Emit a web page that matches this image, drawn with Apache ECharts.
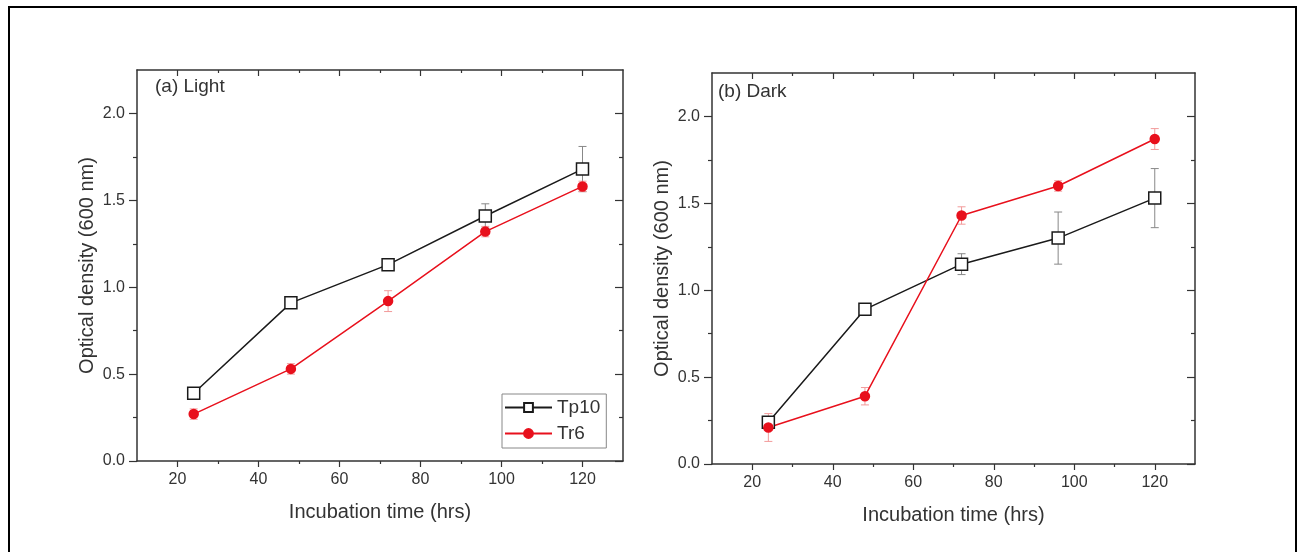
<!DOCTYPE html>
<html>
<head>
<meta charset="utf-8">
<script src="https://cdn.jsdelivr.net/npm/echarts@6/dist/echarts.min.js"></script>
<style>
html,body{margin:0;padding:0;background:#fff;}
#chart{width:1299px;height:552px;}
</style>
</head>
<body>
<div id="chart"></div>
<script>
// ---- data ----
const times = [24, 48, 72, 96, 120];
const xTicks = [20, 40, 60, 80, 100, 120];
const xMinorTicks = [30, 50, 70, 90, 110];
const yTicks = [0, 0.5, 1.0, 1.5, 2.0];
const yMinorTicks = [0.25, 0.75, 1.25, 1.75];
const seriesNames = ['Tp10', 'Tr6'];
const panelTitles = ['(a) Light', '(b) Dark'];
const xAxisTitle = 'Incubation time (hrs)';
const yAxisTitle = 'Optical density (600 nm)';

const lightTp10 = [0.39, 0.91, 1.13, 1.41, 1.68];
const lightTp10Err = [0.02, 0.03, 0.03, 0.07, 0.13];
const lightTr6 = [0.27, 0.53, 0.92, 1.32, 1.58];
const lightTr6Err = [0.03, 0.03, 0.06, 0.03, 0.03];

const darkTp10 = [0.24, 0.89, 1.15, 1.30, 1.53];
const darkTp10Err = [0.03, 0.02, 0.06, 0.15, 0.17];
const darkTr6 = [0.21, 0.39, 1.43, 1.60, 1.87];
const darkTr6Err = [0.08, 0.05, 0.05, 0.03, 0.06];

// ---- layout / style ----
const FONT = "'Liberation Sans', Arial, sans-serif";
const AX = '#333';
const TXT = '#333';
const BLACK = '#1a1a1a';
const RED = '#e8101c';
const X_MIN = 10, X_MAX = 130, Y_MIN = 0, Y_MAX = 2.25;

const panelRects = [
  {left: 137, top: 70, width: 486, height: 391},
  {left: 712, top: 73, width: 483, height: 391}
];

const grids = [];
const xAxes = [];
const yAxes = [];
panelRects.forEach((r, p) => {
  grids.push(Object.assign({}, r, {containLabel: false}));
  grids.push(Object.assign({}, r, {containLabel: false}));
  const g0 = 2 * p, g1 = 2 * p + 1;
  const line = {show: true, onZero: false, lineStyle: {color: AX, width: 1.5}};
  const noLine = {show: false, onZero: false};
  // x axes
  xAxes.push({type: 'value', gridIndex: g0, position: 'bottom', min: X_MIN, max: X_MAX,
    axisLine: line, splitLine: {show: false},
    axisTick: {show: true, customValues: xTicks, length: 6, lineStyle: {color: AX, width: 1.2}},
    axisLabel: {show: true, customValues: xTicks, color: TXT, fontSize: 16, fontFamily: FONT, margin: 11},
    name: xAxisTitle, nameLocation: 'middle', nameGap: 41,
    nameTextStyle: {color: TXT, fontSize: 20, fontFamily: FONT}});
  xAxes.push({type: 'value', gridIndex: g0, position: 'top', min: X_MIN, max: X_MAX,
    axisLine: line, splitLine: {show: false},
    axisTick: {show: true, inside: true, customValues: xTicks, length: 6, lineStyle: {color: AX, width: 1.2}},
    axisLabel: {show: false}});
  xAxes.push({type: 'value', gridIndex: g1, position: 'bottom', min: X_MIN, max: X_MAX,
    axisLine: noLine, splitLine: {show: false},
    axisTick: {show: true, customValues: xMinorTicks, length: 3, lineStyle: {color: AX, width: 1.2}},
    axisLabel: {show: false}});
  xAxes.push({type: 'value', gridIndex: g1, position: 'top', min: X_MIN, max: X_MAX,
    axisLine: noLine, splitLine: {show: false},
    axisTick: {show: true, inside: true, customValues: xMinorTicks, length: 3, lineStyle: {color: AX, width: 1.2}},
    axisLabel: {show: false}});
  // y axes
  yAxes.push({type: 'value', gridIndex: g0, position: 'left', min: Y_MIN, max: Y_MAX,
    axisLine: line, splitLine: {show: false},
    axisTick: {show: true, customValues: yTicks, length: 8, lineStyle: {color: AX, width: 1.2}},
    axisLabel: {show: true, customValues: yTicks, color: TXT, fontSize: 16, fontFamily: FONT, margin: 12,
      formatter: v => Number(v).toFixed(1)},
    name: yAxisTitle, nameLocation: 'middle', nameGap: 40,
    nameTextStyle: {color: TXT, fontSize: 20, fontFamily: FONT}});
  yAxes.push({type: 'value', gridIndex: g0, position: 'right', min: Y_MIN, max: Y_MAX,
    axisLine: line, splitLine: {show: false},
    axisTick: {show: true, inside: true, customValues: yTicks, length: 8, lineStyle: {color: AX, width: 1.2}},
    axisLabel: {show: false}});
  yAxes.push({type: 'value', gridIndex: g1, position: 'left', min: Y_MIN, max: Y_MAX,
    axisLine: noLine, splitLine: {show: false},
    axisTick: {show: true, customValues: yMinorTicks, length: 4, lineStyle: {color: AX, width: 1.2}},
    axisLabel: {show: false}});
  yAxes.push({type: 'value', gridIndex: g1, position: 'right', min: Y_MIN, max: Y_MAX,
    axisLine: noLine, splitLine: {show: false},
    axisTick: {show: true, inside: true, customValues: yMinorTicks, length: 4, lineStyle: {color: AX, width: 1.2}},
    axisLabel: {show: false}});
});

function lineSeries(name, p, vals, color, symbol, size, fill) {
  return {
    type: 'line', name: name, xAxisIndex: 4 * p, yAxisIndex: 4 * p,
    data: times.map((t, i) => [t, vals[i]]),
    symbol: symbol, symbolSize: size, showAllSymbol: true,
    lineStyle: {color: color, width: 1.5},
    itemStyle: {color: fill, borderColor: color, borderWidth: 1.5},
    z: 5, silent: true, animation: false
  };
}

function errSeries(name, p, vals, errs, color) {
  return {
    type: 'custom', name: name, xAxisIndex: 4 * p, yAxisIndex: 4 * p,
    data: times.map((t, i) => [t, vals[i] - errs[i], vals[i] + errs[i]]),
    encode: {x: 0, y: [1, 2]},
    z: 3, silent: true, animation: false,
    renderItem: function (params, api) {
      const lo = api.coord([api.value(0), api.value(1)]);
      const hi = api.coord([api.value(0), api.value(2)]);
      const w = 4;
      const st = {stroke: color, lineWidth: 1};
      return {type: 'group', children: [
        {type: 'line', shape: {x1: lo[0], y1: lo[1], x2: hi[0], y2: hi[1]}, style: st},
        {type: 'line', shape: {x1: lo[0] - w, y1: lo[1], x2: lo[0] + w, y2: lo[1]}, style: st},
        {type: 'line', shape: {x1: hi[0] - w, y1: hi[1], x2: hi[0] + w, y2: hi[1]}, style: st}
      ]};
    }
  };
}

const series = [
  errSeries('Tp10 err a', 0, lightTp10, lightTp10Err, '#888'),
  errSeries('Tr6 err a', 0, lightTr6, lightTr6Err, '#f29a9a'),
  lineSeries(seriesNames[0], 0, lightTp10, BLACK, 'rect', 12, '#fff'),
  lineSeries(seriesNames[1], 0, lightTr6, RED, 'circle', 9, RED),
  errSeries('Tp10 err b', 1, darkTp10, darkTp10Err, '#888'),
  errSeries('Tr6 err b', 1, darkTr6, darkTr6Err, '#f29a9a'),
  lineSeries(seriesNames[0], 1, darkTp10, BLACK, 'rect', 12, '#fff'),
  lineSeries(seriesNames[1], 1, darkTr6, RED, 'circle', 9, RED)
];

const option = {
  animation: false,
  backgroundColor: '#fff',
  grid: grids,
  xAxis: xAxes,
  yAxis: yAxes,
  legend: {
    data: seriesNames,
    orient: 'vertical',
    left: 502, top: 394,
    itemWidth: 47, itemHeight: 11, itemGap: 7,
    padding: [4, 6, 5, 2],
    borderColor: '#888', borderWidth: 1,
    textStyle: {color: TXT, fontSize: 19, fontFamily: FONT},
    selectedMode: false
  },
  graphic: [
    {type: 'text', left: 155, top: 77, style: {text: panelTitles[0], fill: TXT, font: '19px ' + FONT}},
    {type: 'text', left: 718, top: 82, style: {text: panelTitles[1], fill: TXT, font: '19px ' + FONT}},
    {type: 'polyline', shape: {points: [[9, 560], [9, 7], [1296, 7], [1296, 560]]},
      style: {stroke: '#000', lineWidth: 2, fill: null}, silent: true}
  ],
  series: series
};

const chart = echarts.init(document.getElementById('chart'), null, {renderer: 'canvas'});
chart.setOption(option);
</script>
</body>
</html>
